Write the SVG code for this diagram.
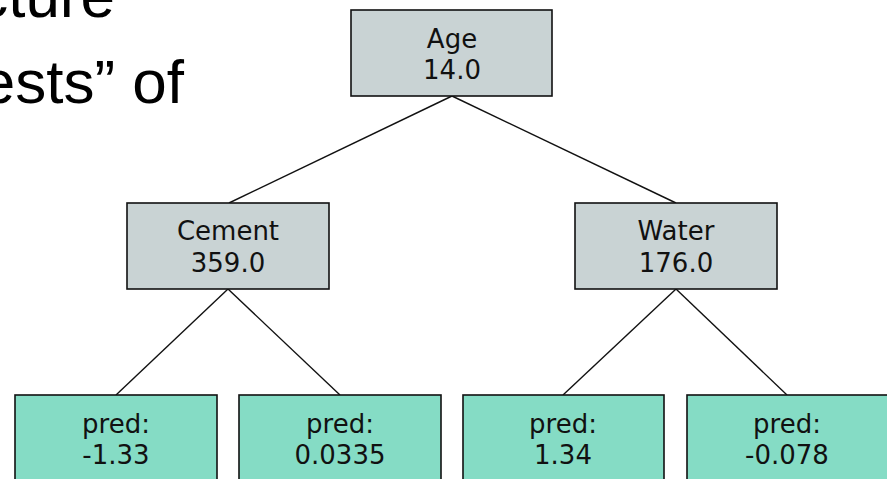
<svg xmlns="http://www.w3.org/2000/svg" width="887" height="479" viewBox="0 0 887 479">
<style>
.bg{font-family:"Liberation Sans",Arial,sans-serif;font-size:62px;fill:#000}
.split rect{fill:#c9d3d4;stroke:#111;stroke-width:1.6}
.leaf rect{fill:#85dcc5;stroke:#111;stroke-width:1.6}
text.l{font-family:"DejaVu Sans",sans-serif;font-size:26px;fill:#111;text-anchor:middle}
#edges line{stroke:#111;stroke-width:1.4}
</style>
<rect width="887" height="479" fill="#fff"/>
<text class="bg" x="115" y="17" text-anchor="end">cture</text>
<text class="bg" x="184" y="103" text-anchor="end">ests” of</text>
<g id="edges">
<line x1="452" y1="96" x2="229" y2="203"/>
<line x1="452" y1="96" x2="676" y2="203"/>
<line x1="228" y1="289" x2="116" y2="395"/>
<line x1="228" y1="289" x2="340" y2="395"/>
<line x1="676" y1="289" x2="563" y2="395"/>
<line x1="676" y1="289" x2="787" y2="395"/>
</g>
<g id="age" class="split"><rect x="351" y="10" width="201" height="86"/><text class="l" x="452" y="48">Age</text><text class="l" x="452" y="79">14.0</text></g>
<g id="cement" class="split"><rect x="127" y="203" width="202" height="86"/><text class="l" x="228" y="240">Cement</text><text class="l" x="228" y="272">359.0</text></g>
<g id="water" class="split"><rect x="575" y="203" width="202" height="86"/><text class="l" x="676" y="240">Water</text><text class="l" x="676" y="272">176.0</text></g>
<g id="leaf1" class="leaf"><rect x="15" y="395" width="202" height="100"/><text class="l" x="116" y="433">pred:</text><text class="l" x="116" y="464">-1.33</text></g>
<g id="leaf2" class="leaf"><rect x="239" y="395" width="202" height="100"/><text class="l" x="340" y="433">pred:</text><text class="l" x="340" y="464">0.0335</text></g>
<g id="leaf3" class="leaf"><rect x="463" y="395" width="201" height="100"/><text class="l" x="563" y="433">pred:</text><text class="l" x="563" y="464">1.34</text></g>
<g id="leaf4" class="leaf"><rect x="687" y="395" width="202" height="100"/><text class="l" x="787" y="433">pred:</text><text class="l" x="787" y="464">-0.078</text></g>
</svg>
